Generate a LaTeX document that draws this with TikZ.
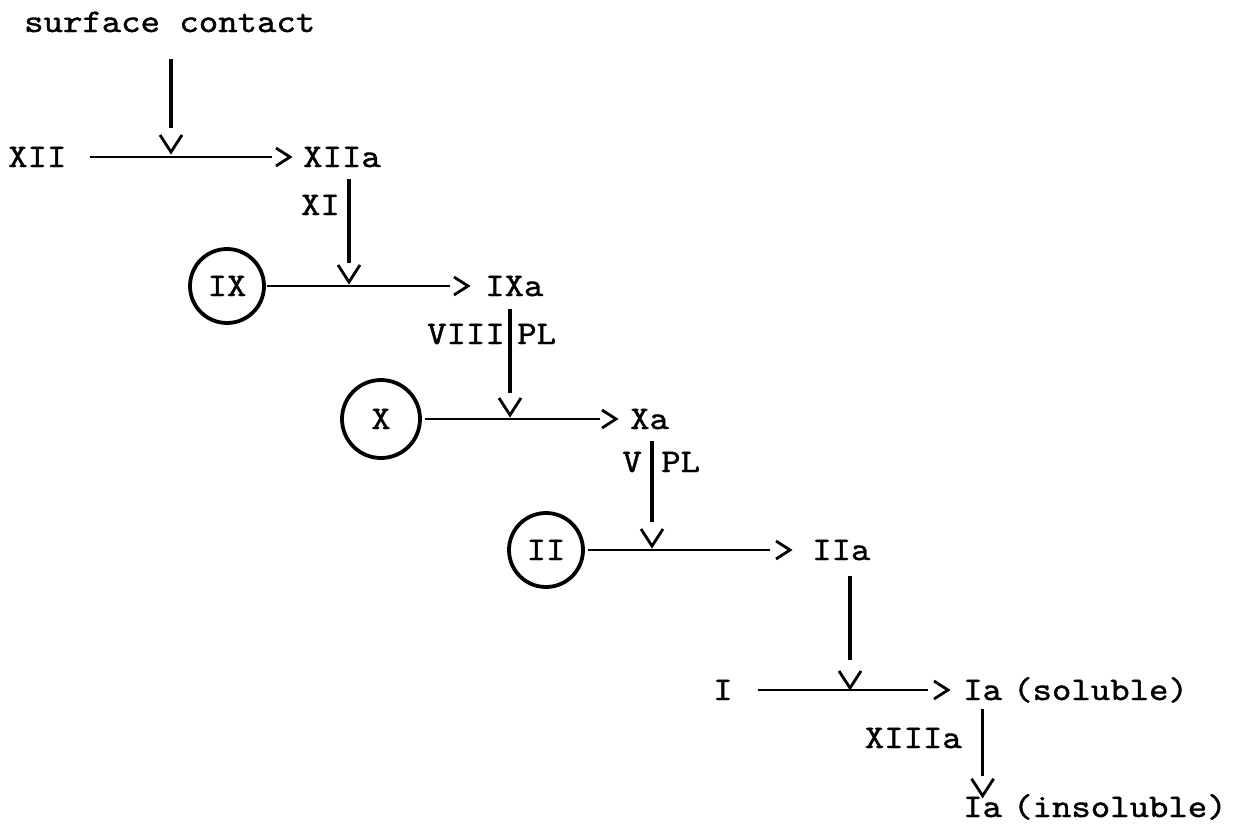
\documentclass[tikz,border=0pt]{standalone}
\usepackage{fontspec}
\newfontfamily\tw{lmmono10-regular.otf}[FakeStretch=1.12,FakeBold=1.2]
\usetikzlibrary{calc}
\tikzset{
  lbl/.style={font=\tw\fontsize{33}{36}\selectfont, inner sep=0pt, text height=20pt, text depth=0pt},
  ring/.style={circle, draw, line width=3.8pt, inner sep=0pt, minimum size=74pt,
               font=\tw\fontsize{33}{36}\selectfont, text height=20pt, text depth=0pt},
  hl/.style={line width=2.5pt},
  vl/.style={line width=3.6pt},
  chev/.style={line width=2.8pt, line join=miter},
  downV/.pic={\draw[chev] (-11,-17) -- (0,0) -- (11,-17);},
  rightV/.pic={\draw[chev] (-14,-9) -- (0,0) -- (-14,9);}
}
\begin{document}
\begin{tikzpicture}[x=1pt,y=-1pt]
\useasboundingbox (0,0) rectangle (1235,827);

% nodes
\node[lbl,anchor=west] (sc) at (24,22) {surface contact};
\node[lbl,anchor=west] (xii) at (8,157) {XII};
\node[lbl,anchor=west] (xiia) at (303,157) {XIIa};
\node[lbl,anchor=east] (xi) at (340,205) {XI};
\node[ring] (ix) at (227,286) {IX};
\node[lbl,anchor=west] (ixa) at (485,286) {IXa};
\node[lbl,anchor=east] (viii) at (505,334) {VIII};
\node[lbl,anchor=west] (pl1) at (517,334) {PL};
\node[ring,minimum size=78pt] (x) at (381,419) {X};
\node[lbl,anchor=west] (xa) at (630,419) {Xa};
\node[lbl,anchor=east] (v) at (642,462) {V};
\node[lbl,anchor=west] (pl2) at (661,462) {PL};
\node[ring] (ii) at (546,550) {II};
\node[lbl,anchor=west] (iia) at (812,550) {IIa};
\node[lbl,anchor=west] (i) at (713,690) {I};
\node[lbl,anchor=west] (ias) at (963,690) {Ia};
\node[lbl,anchor=west] (sol) at (1013,690) {(soluble)};
\node[lbl,anchor=east] (xiiia) at (962,738) {XIIIa};
\node[lbl,anchor=west] (iai) at (963,807) {Ia};
\node[lbl,anchor=west] (insol) at (1013,807) {(insoluble)};

% junction points on the horizontal lines
\coordinate (j1) at (171,157);
\coordinate (j2) at (349,286);
\coordinate (j3) at (510,419);
\coordinate (j4) at (652,550);
\coordinate (j5) at (850,690);

% horizontal connectors
\draw[hl, shorten <=23pt, shorten >=31pt] (xii.east) -- (xii.east -| xiia.west);
\pic at ($(xiia.west)+(-13,0)$) {rightV};
\draw[hl, shorten <=1pt, shorten >=35pt] (ix.east) -- (ix.east -| ixa.west);
\pic at ($(ixa.west)+(-17,0)$) {rightV};
\draw[hl, shorten <=3pt, shorten >=30pt] (x.east) -- (x.east -| xa.west);
\pic at ($(xa.west)+(-14,0)$) {rightV};
\draw[hl, shorten <=3pt, shorten >=42pt] (ii.east) -- (ii.east -| iia.west);
\pic at ($(iia.west)+(-22,0)$) {rightV};
\draw[hl, shorten <=25pt, shorten >=35pt] (i.east) -- (i.east -| ias.west);
\pic at ($(ias.west)+(-15,0)$) {rightV};

% vertical connectors
\draw[vl, shorten <=27pt, shorten >=29pt] (sc.south -| j1) -- (j1);
\pic at ($(j1)+(0,-5)$) {downV};
\draw[vl, shorten <=12pt, shorten >=23pt] (xiia.south -| j2) -- (j2);
\pic at ($(j2)+(0,-4)$) {downV};
\draw[vl, shorten <=13pt, shorten >=26pt] (ixa.south -| j3) -- (j3);
\pic at ($(j3)+(0,-4)$) {downV};
\draw[vl, shorten <=12pt, shorten >=28pt] (xa.south -| j4) -- (j4);
\pic at ($(j4)+(0,-4)$) {downV};
\draw[vl, shorten <=16pt, shorten >=30pt] (iia.south -| j5) -- (j5);
\pic at ($(j5)+(0,-2)$) {downV};
\draw[vl, shorten <=9pt, shorten >=21pt] (ias.south) -- (iai.north);
\pic at ($(iai.north)+(0,-1)$) {downV};
\end{tikzpicture}
\end{document}
